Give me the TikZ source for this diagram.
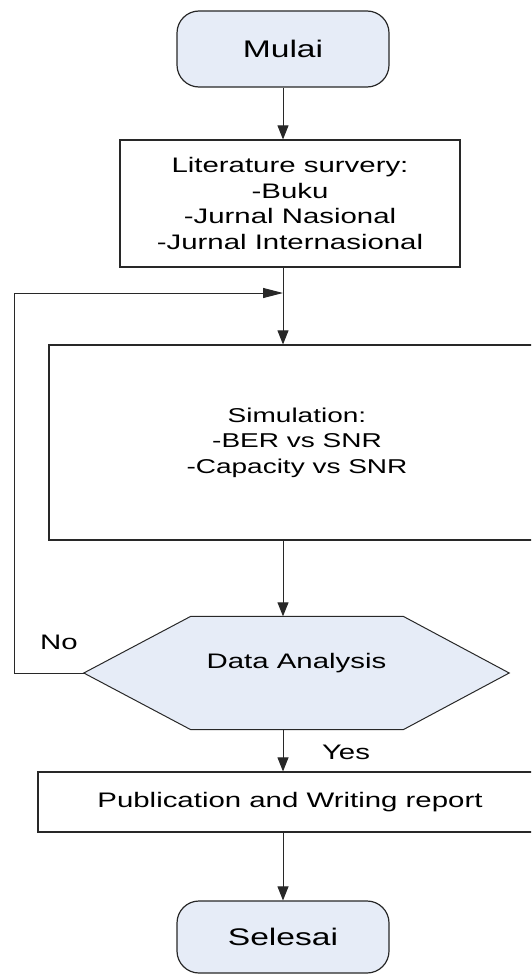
\documentclass[tikz,border=0pt]{standalone}
\usepackage{fontspec}
\setmainfont{Liberation Sans}[FakeStretch=1.4]
\usetikzlibrary{arrows.meta,positioning,calc}
\definecolor{termblue}{RGB}{230,236,247}
\definecolor{linegray}{RGB}{40,40,40}
\tikzset{
  termnode/.style={rounded corners=22pt, draw=linegray, line width=1.2pt,
    fill=termblue, minimum width=212pt, minimum height=#1, inner sep=0pt,
    font=\fontsize{24}{28}\selectfont},
  procnode/.style={draw=linegray, line width=1.2pt, fill=white, align=center,
    inner sep=0pt, font=\fontsize{21}{25.7}\selectfont},
  hexbox/.style={minimum width=425pt, minimum height=113pt, inner sep=0pt},
  hexfill/.style={draw=linegray, line width=1pt, fill=termblue},
  lbl/.style={font=\fontsize{21}{25}\selectfont, inner sep=0pt},
  flow/.style={-{Triangle[length=14pt,width=11pt]}, line width=1pt, draw=linegray},
  loopflow/.style={-{Triangle[length=20pt,width=10pt]}, line width=1pt, draw=linegray},
}
\begin{document}
\begin{tikzpicture}[x=1pt, y=-1pt]
      \useasboundingbox (0,0) rectangle (531,974);
      \clip (0,0) rectangle (531,974);

      %% ---- Start ----
      \node[termnode=76pt] (mulai) at (283,49) {Mulai};

      %% ---- Literature ----
      \node[procnode, minimum width=340pt, minimum height=127pt] (lit) at (290,203.5)
           {Literature survery:\\-Buku\\-Jurnal Nasional\\-Jurnal Internasional};
      \draw[flow] (mulai.south) -- (mulai.south |- lit.north);

      %% ---- Simulation ----
      \node[procnode, minimum width=496pt, minimum height=195pt,
            font=\fontsize{20}{25.5}\selectfont] (sim) at (297,442.5)
           {Simulation:\\-BER vs SNR\\-Capacity vs SNR};
      \draw[flow] (lit.south -| mulai.south) -- (sim.north -| mulai.south);

      %% ---- Data analysis ----
      \node[hexbox] (analysis) at (296.5,673) {};
      \draw[hexfill] (analysis.west) -- ([xshift=107pt]analysis.north west)
            -- ([xshift=-106pt]analysis.north east) -- (analysis.east)
            -- ([xshift=-106pt]analysis.south east) -- ([xshift=107pt]analysis.south west) -- cycle;
      \node[lbl] (analysistxt) at ([yshift=10pt]analysis.center) {Data Analysis};
      \draw[flow] (sim.south -| mulai.south) -- (analysis.north -| mulai.south);

      %% ---- loop back ----
      \coordinate (loopin) at (283,293);
      \draw[loopflow] (analysis.west) -- ++(-69,0) |- (loopin);
      \node[lbl] (no) at (59,642) {No};

      %% ---- Publication ----
      \node[procnode, minimum width=504pt, minimum height=60pt] (pub) at (290,802)
           {Publication and Writing report};
      \draw[flow] (analysis.south -| mulai.south) -- (pub.north -| mulai.south);
      \node[lbl] (yes) at (346,752) {Yes};

      %% ---- End ----
      \node[termnode=72pt] (selesai) at (283,937) {Selesai};
      \draw[flow] (pub.south -| mulai.south) -- (selesai.north);
\end{tikzpicture}
\end{document}
